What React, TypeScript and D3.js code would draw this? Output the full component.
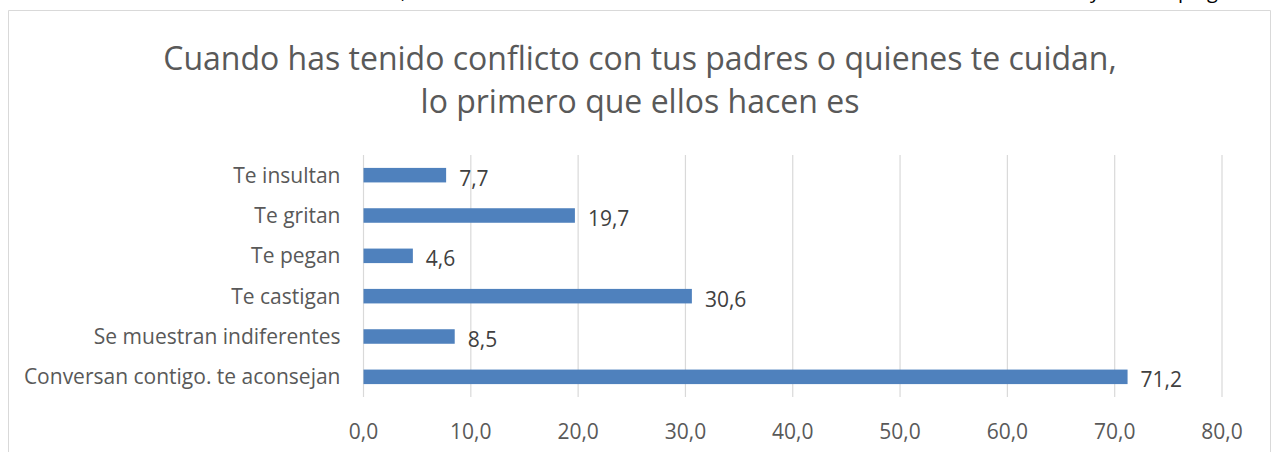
import React from "react";
import * as d3 from "d3";

const categories = [
  "Te insultan",
  "Te gritan",
  "Te pegan",
  "Te castigan",
  "Se muestran indiferentes",
  "Conversan contigo. te aconsejan",
];
const values = [7.7, 19.7, 4.6, 30.6, 8.5, 71.2];
const xTicks = [0, 10, 20, 30, 40, 50, 60, 70, 80];
const titleLines = [
  "Cuando has tenido conflicto con tus padres o quienes te cuidan,",
  "lo primero que ellos hacen es",
];

const width = 1277;
const height = 452;
const font = "'Open Sans', 'Noto Sans', sans-serif";
const fmt = (v: number) => d3.format(".1f")(v).replace(".", ",");

export default function App() {
  const x = d3.scaleLinear().domain([0, 80]).range([363.5, 1222]);
  const y = d3.scaleBand().domain(categories).range([155, 397]).paddingInner(0.64).paddingOuter(0.32);

  return (
    <svg width={width} height={height} style={{ position: "absolute", left: 0, top: 0, background: "#fff" }}>
      {/* cut-off text of the page above the chart */}
      <g fontFamily={font} fontSize={20} fill="#000">
        <text x={401} y={-2}>,</text>
        <text x={1090} y={-2}>y</text>
        <text x={1178} y={-2}>p</text>
        <text x={1207} y={-2}>g</text>
      </g>
      <path d={`M8.5,${height} V10.5 H1270.5 V${height}`} fill="none" stroke="#d9d9d9" strokeWidth={1} />
      <g fontFamily={font} fill="#595959" fontSize={32} textAnchor="middle">
        {titleLines.map((t, i) => (
          <text key={i} x={640} y={70 + i * 43}>{t}</text>
        ))}
      </g>
      {xTicks.map((t) => (
        <g key={t}>
          <line x1={x(t)} x2={x(t)} y1={155} y2={397} stroke="#d9d9d9" strokeWidth={1.2} />
          <text x={x(t)} y={439} textAnchor="middle" fontFamily={font} fontSize={21} fill="#595959">
            {fmt(t)}
          </text>
        </g>
      ))}
      {categories.map((c, i) => (
        <g key={c}>
          <rect
            x={x(0)}
            y={y(c)!}
            width={x(values[i]) - x(0)}
            height={y.bandwidth()}
            fill="#4f81bd"
          />
          <text
            x={x(0) - 23}
            y={y(c)! + y.bandwidth() / 2}
            dy="0.35em"
            textAnchor="end"
            fontFamily={font}
            fontSize={21}
            fill="#595959"
          >
            {c}
          </text>
          <text
            x={x(values[i]) + 13}
            y={y(c)! + y.bandwidth() / 2 + 3}
            dy="0.35em"
            fontFamily={font}
            fontSize={21}
            fill="#404040"
          >
            {fmt(values[i])}
          </text>
        </g>
      ))}
    </svg>
  );
}
